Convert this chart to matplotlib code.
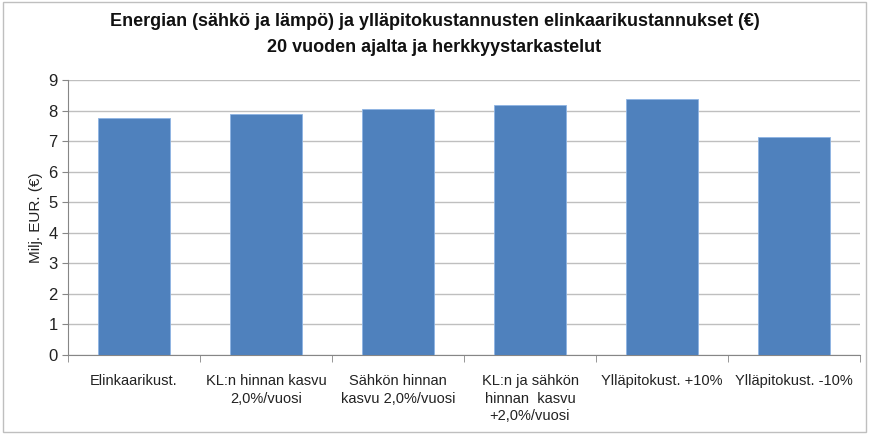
import matplotlib.pyplot as plt
from matplotlib.patches import Rectangle

categories = ["Elinkaarikust.", "KL:n hinnan kasvu\n2,0%/vuosi", "Sähkön hinnan\nkasvu 2,0%/vuosi",
              "KL:n ja sähkön\nhinnan  kasvu\n+2,0%/vuosi", "Ylläpitokust. +10%", "Ylläpitokust. -10%"]
values = [7.75, 7.90, 8.04, 8.17, 8.38, 7.12]

plt.rcParams['font.family'] = ['Liberation Sans', 'DejaVu Sans']

fig = plt.figure(figsize=(8.69, 4.34), dpi=100)
ax = fig.add_axes([68/869, 1 - 355/434, (860 - 68)/869, (355 - 80)/434])

x = range(len(values))
ax.bar(x, values, width=0.54, color="#4F81BD", edgecolor="#8EB4E3", linewidth=0.6, zorder=3)

ax.set_xlim(-0.5, len(values) - 0.5)
ax.set_ylim(0, 9)
ax.set_yticks(range(10))
ax.set_xticks(x)
ax.set_xticklabels(categories, fontsize=10.5, color="#222222", linespacing=1.3)
ax.tick_params(axis='y', labelsize=12, colors="#222222", length=4, color="#868686")
ax.tick_params(axis='x', length=0, pad=14)
# minor ticks between categories
ax.set_xticks([i + 0.5 for i in range(-1, len(values))], minor=True)
ax.tick_params(axis='x', which='minor', length=5, color="#868686")

ax.grid(axis='y', color="#BFBFBF", linewidth=1, zorder=0)
for s in ['top', 'right']:
    ax.spines[s].set_visible(False)
ax.spines['left'].set_color("#868686")
ax.spines['bottom'].set_color("#868686")

ax.set_ylabel("Milj. EUR. (€)", fontsize=11, color="#222222")

fig.suptitle("Energian (sähkö ja lämpö) ja ylläpitokustannusten elinkaarikustannukset (€)\n"
             "20 vuoden ajalta ja herkkyystarkastelut",
             fontsize=13, fontweight='bold', y=0.97, color="#111111", linespacing=1.7)

fig.add_artist(Rectangle((0.003, 0.005), 0.994, 0.99, transform=fig.transFigure,
                         fill=False, edgecolor="#BFBFBF", linewidth=1))

fig.savefig("out.png", dpi=100)
